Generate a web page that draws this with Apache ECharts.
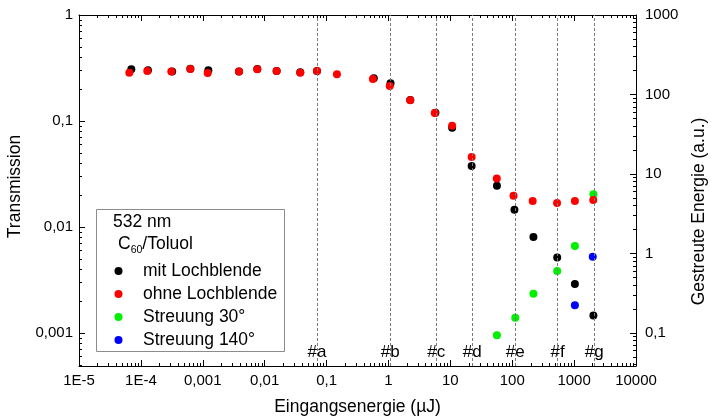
<!DOCTYPE html>
<html>
<head>
<meta charset="utf-8">
<script src="https://cdn.jsdelivr.net/npm/echarts@6/dist/echarts.min.js"></script>
<style>html,body{margin:0;padding:0;background:#fff}#c{width:711px;height:417px}</style>
</head>
<body>
<div id="c"></div>
<script>
// ---- data ----
const xTickValues = [1e-5, 1e-4, 1e-3, 0.01, 0.1, 1, 10, 100, 1000, 10000];
const xTickLabels = ['1E-5', '1E-4', '0,001', '0,01', '0,1', '1', '10', '100', '1000', '10000'];
const yLeftTickValues = [0.001, 0.01, 0.1, 1];
const yLeftTickLabels = ['0,001', '0,01', '0,1', '1'];
const yRightTickValues = [0.1, 1, 10, 100, 1000];
const yRightTickLabels = ['0,1', '1', '10', '100', '1000'];

const energyMit = [7.0e-5, 1.3e-4, 3.2e-4, 6.3e-4, 1.23e-3, 3.85e-3, 7.6e-3, 0.0156, 0.0376, 0.070, 0.58, 1.08, 2.25, 5.74, 10.7, 22.1, 56.6, 108.6, 220, 533, 1030, 2050];
const transMit = [0.308, 0.301, 0.294, 0.311, 0.301, 0.294, 0.309, 0.296, 0.288, 0.297, 0.253, 0.227, 0.158, 0.120, 0.0865, 0.0376, 0.0245, 0.0146, 0.00805, 0.00518, 0.0029, 0.00147];

const energyOhne = [6.5e-5, 1.27e-4, 3.1e-4, 6.3e-4, 1.2e-3, 3.85e-3, 7.6e-3, 0.0156, 0.0376, 0.070, 0.147, 0.56, 1.05, 2.25, 5.6, 10.7, 22.1, 56.3, 105, 214, 530, 1030, 2040];
const transOhne = [0.286, 0.296, 0.294, 0.309, 0.284, 0.294, 0.308, 0.296, 0.286, 0.297, 0.276, 0.249, 0.214, 0.157, 0.119, 0.0903, 0.0457, 0.0288, 0.0197, 0.0176, 0.0169, 0.0176, 0.0180];

const energy30 = [56.6, 112, 220, 533, 1030, 2050];
const scatter30 = [0.0935, 0.156, 0.312, 0.602, 1.24, 5.56];

const energy140 = [1030, 2000];
const scatter140 = [0.223, 0.912];

const markerEnergy = [0.069, 1.07, 5.9, 22.6, 112, 541, 2113];
const markerNames = ['#a', '#b', '#c', '#d', '#e', '#f', '#g'];

const xRange = [1e-5, 1e4];
const yLeftRange = [4.9e-4, 1];
const yRightRange = [0.0385, 1000];

// ---- helpers ----
function minorValues(lo, hi) {
  const out = [];
  for (let k = Math.floor(Math.log10(lo)); k <= Math.ceil(Math.log10(hi)); k++) {
    for (let m = 2; m <= 9; m++) {
      const v = m * Math.pow(10, k);
      if (v > lo && v < hi) out.push(v);
    }
  }
  return out;
}
function labelFor(values, labels) {
  return function (v) {
    for (let i = 0; i < values.length; i++) {
      if (Math.abs(Math.log10(v) - Math.log10(values[i])) < 1e-6) return labels[i];
    }
    return '';
  };
}
function zip(a, b) { return a.map((v, i) => [v, b[i]]); }

const FONT = 'Liberation Sans, Arial, sans-serif';
const lineStyle = { color: '#000', width: 1 };
const MAJOR = 6, MINOR = 3;
const majorTick = { show: true, inside: true, length: MAJOR, lineStyle: lineStyle };

const chart = echarts.init(document.getElementById('c'));

const option = {
  animation: false,
  backgroundColor: '#fff',
  grid: { left: 79, right: 75, top: 15, bottom: 51, containLabel: false, outerBoundsMode: 'none' },
  xAxis: [
    {
      type: 'log', min: xRange[0], max: xRange[1], position: 'bottom',
      splitLine: { show: false },
      name: 'Eingangsenergie (µJ)', nameLocation: 'middle', nameGap: 32,
      nameTextStyle: { fontFamily: FONT, fontSize: 17.5, color: '#000' },
      axisLine: { show: true, lineStyle: lineStyle, onZero: false },
      axisTick: majorTick,
      axisLabel: { show: true, margin: 7, fontFamily: FONT, fontSize: 15, color: '#000',
        showMinLabel: true, showMaxLabel: true, formatter: labelFor(xTickValues, xTickLabels) }
    },
    {
      type: 'log', min: xRange[0], max: xRange[1], position: 'top',
      splitLine: { show: false }, axisTick: majorTick, axisLabel: { show: false },
      axisLine: { show: true, lineStyle: lineStyle, onZero: false }
    }
  ],
  yAxis: [
    {
      type: 'log', min: yLeftRange[0], max: yLeftRange[1], position: 'left',
      splitLine: { show: false },
      name: 'Transmission', nameLocation: 'middle', nameGap: 53,
      nameTextStyle: { fontFamily: FONT, fontSize: 17.5, color: '#000', padding: [0, 0, 0, 8] },
      axisLine: { show: true, lineStyle: lineStyle, onZero: false },
      axisTick: majorTick,
      axisLabel: { show: true, margin: 6, fontFamily: FONT, fontSize: 15, color: '#000',
        formatter: labelFor(yLeftTickValues, yLeftTickLabels) }
    },
    {
      type: 'log', min: yRightRange[0], max: yRightRange[1], position: 'right',
      splitLine: { show: false },
      name: 'Gestreute Energie (a.u.)', nameLocation: 'middle', nameGap: 54,
      nameTextStyle: { fontFamily: FONT, fontSize: 17.5, color: '#000', padding: [0, 42, 0, 0] },
      axisLine: { show: true, lineStyle: lineStyle, onZero: false },
      axisTick: majorTick,
      axisLabel: { show: true, margin: 9, fontFamily: FONT, fontSize: 15, color: '#000',
        formatter: labelFor(yRightTickValues, yRightTickLabels) }
    }
  ],
  legend: {
    orient: 'vertical', left: 114.5, top: 262, padding: 0, z: 10,
    itemWidth: 8, itemHeight: 8, itemGap: 5, icon: 'circle',
    textStyle: { fontFamily: FONT, fontSize: 17.5, color: '#000', lineHeight: 17, padding: [0, 0, 0, 15.5] },
    data: ['mit Lochblende', 'ohne Lochblende', 'Streuung 30°', 'Streuung 140°']
  },
  graphic: [
    { type: 'rect', shape: { x: 96.5, y: 209.5, width: 188, height: 142 }, style: { fill: '#fff', stroke: '#8c8c8c', lineWidth: 1 } },
    { type: 'text', x: 113, y: 222.5, style: { text: '532 nm', font: '17.5px ' + FONT, fill: '#000', verticalAlign: 'middle' } },
    { type: 'text', x: 118, y: 244.5, style: {
      text: '{a|C}{s|60}{a|/Toluol}', verticalAlign: 'middle', fill: '#000',
      rich: { a: { fontFamily: FONT, fontSize: 17.5, fill: '#000' }, s: { fontFamily: FONT, fontSize: 10.5, fill: '#000', padding: [12, 0, 0, 0] } } } }
  ],
  series: [
    {
      name: 'mit Lochblende', type: 'scatter', xAxisIndex: 0, yAxisIndex: 0, z: 3,
      symbol: 'circle', symbolSize: 8, itemStyle: { color: '#000', opacity: 1 },
      data: zip(energyMit, transMit),
      markLine: {
        silent: true, symbol: 'none', animation: false,
        lineStyle: { color: '#7a7a7a', type: [3, 2], width: 1 },
        label: { show: true, position: 'start', formatter: '{b}', offset: [0, -27], fontFamily: FONT, fontSize: 17, color: '#000' },
        data: markerEnergy.map((v, i) => ({ xAxis: v, name: markerNames[i] }))
      }
    },
    {
      name: 'ohne Lochblende', type: 'scatter', xAxisIndex: 0, yAxisIndex: 0, z: 4,
      symbol: 'circle', symbolSize: 8, itemStyle: { color: '#ff0000', opacity: 1 },
      data: zip(energyOhne, transOhne)
    },
    {
      name: 'Streuung 30°', type: 'scatter', xAxisIndex: 0, yAxisIndex: 1, z: 3,
      symbol: 'circle', symbolSize: 8, itemStyle: { color: '#00f000', opacity: 1 },
      data: zip(energy30, scatter30)
    },
    {
      name: 'Streuung 140°', type: 'scatter', xAxisIndex: 0, yAxisIndex: 1, z: 3,
      symbol: 'circle', symbolSize: 8, itemStyle: { color: '#0000ff', opacity: 1 },
      data: zip(energy140, scatter140)
    }
  ]
};
chart.setOption(option);

// ---- minor ticks as short marker lines; their lengths are converted to data units by the chart's own scales ----
try {
  const finderL = { xAxisIndex: 0, yAxisIndex: 0 };
  const finderR = { xAxisIndex: 0, yAxisIndex: 1 };
  const leftTicks = [];
  const rightTicks = [];
  const pb = chart.convertToPixel(finderL, [xRange[0], yLeftRange[0]]);
  const pt = chart.convertToPixel(finderL, [xRange[1], yLeftRange[1]]);
  const yBottomIn = chart.convertFromPixel(finderL, [pb[0], pb[1] - MINOR])[1];
  const yTopIn = chart.convertFromPixel(finderL, [pb[0], pt[1] + MINOR])[1];
  minorValues(xRange[0], xRange[1]).forEach(function (v) {
    leftTicks.push([{ coord: [v, yLeftRange[0]] }, { coord: [v, yBottomIn] }]);
    leftTicks.push([{ coord: [v, yLeftRange[1]] }, { coord: [v, yTopIn] }]);
  });
  const xLeftIn = chart.convertFromPixel(finderL, [pb[0] + MINOR, pb[1]])[0];
  minorValues(yLeftRange[0], yLeftRange[1]).forEach(function (v) {
    leftTicks.push([{ coord: [xRange[0], v] }, { coord: [xLeftIn, v] }]);
  });
  const xRightIn = chart.convertFromPixel(finderR, [pt[0] - MINOR, pt[1]])[0];
  minorValues(yRightRange[0], yRightRange[1]).forEach(function (v) {
    rightTicks.push([{ coord: [xRange[1], v] }, { coord: [xRightIn, v] }]);
  });
  const tickMarkLine = function (data) {
    return {
      silent: true, symbol: 'none', animation: false, precision: 10,
      label: { show: false }, emphasis: { disabled: true },
      lineStyle: { color: '#000', type: 'solid', width: 1 },
      data: data
    };
  };
  chart.setOption({ series: [{}, { markLine: tickMarkLine(leftTicks) }, {}, { markLine: tickMarkLine(rightTicks) }] });
} catch (e) { /* keep the chart without minor ticks */ }
</script>
</body>
</html>
